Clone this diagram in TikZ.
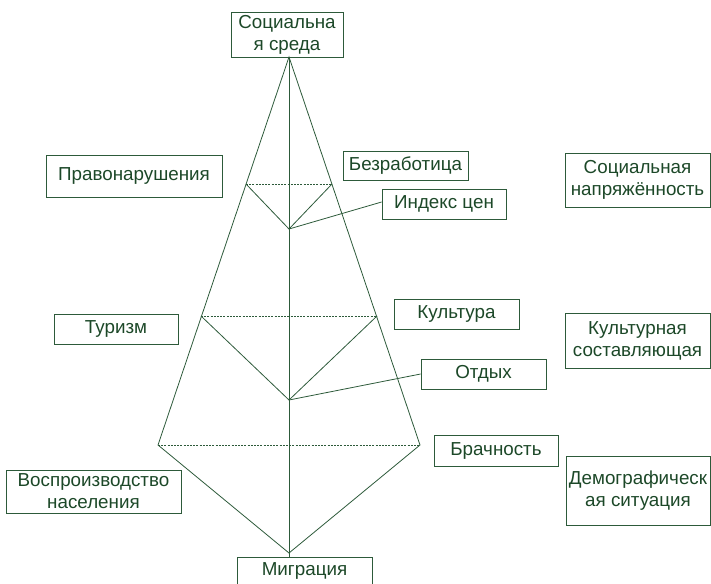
\documentclass[tikz,border=0pt]{standalone}
\usepackage{fontspec}
\setmainfont{Liberation Sans}
\definecolor{lc}{RGB}{45,90,58}
\definecolor{tc}{RGB}{28,72,40}
\begin{document}
\begin{tikzpicture}[x=1pt,y=-1pt,
  every node/.style={font=\fontsize{18.8}{22}\selectfont, text=tc, align=center},
  lbox/.style={draw=lc, line width=0.8pt, inner sep=0pt},
  ln/.style={draw=lc, line width=0.8pt},
  dln/.style={draw=lc, line width=0.8pt, dash pattern=on 2pt off 1.2pt}]
\useasboundingbox (0,0) rectangle (711,583);
\clip (0,0) rectangle (711,583);
% boxes
\node[lbox, minimum width=112pt, minimum height=45pt] (soc) at (287,34.5) {Социальна\\я среда};
\node[lbox, minimum width=176pt, minimum height=42pt] (prav) at (134,176) {Правонарушения};
\node[lbox, minimum width=125pt, minimum height=29pt] (bez) at (405.5,165.5) {Безработица};
\node[lbox, minimum width=124pt, minimum height=30pt] (idx) at (444,204) {Индекс цен};
\node[lbox, minimum width=145pt, minimum height=54pt] (napr) at (637.5,180) {Социальная\\напряжённость};
\node[lbox, minimum width=124pt, minimum height=30pt] (tur) at (116,329) {Туризм};
\node[lbox, minimum width=125pt, minimum height=30pt] (kul) at (456.5,314) {Культура};
\node[lbox, minimum width=145pt, minimum height=55pt] (ksost) at (637.5,340.5) {Культурная\\составляющая};
\node[lbox, minimum width=125pt, minimum height=30pt] (otd) at (483.5,374) {Отдых};
\node[lbox, minimum width=124pt, minimum height=31pt] (bra) at (496,450.5) {Брачность};
\node[lbox, minimum width=175pt, minimum height=43pt] (vos) at (93.5,491.5) {Воспроизводство\\населения};
\node[lbox, minimum width=144pt, minimum height=69pt] (dem) at (638,490.5) {Демографическ\\ая ситуация};
\node[lbox, minimum width=135pt, minimum height=28pt] (mig) at (304.5,571) {Миграция};
% geometry points
\coordinate (A) at (289,57);
\coordinate (L) at (158,445);
\coordinate (R) at (420,445);
\coordinate (B) at (289,553);
\coordinate (l1) at (246,184);
\coordinate (r1) at (332,184);
\coordinate (v1) at (289,229);
\coordinate (l2) at (201,316);
\coordinate (r2) at (377,316);
\coordinate (v2) at (289,400);
\coordinate (mt) at (289,557);
% pyramid
\draw[ln] (A) -- (L) -- (B) -- (R) -- cycle;
\draw[ln] (A) -- (mt);
\draw[dln] (l1) -- (r1);
\draw[dln] (l2) -- (r2);
\draw[dln] (L) -- (R);
\draw[ln] (l1) -- (v1) -- (r1);
\draw[ln] (l2) -- (v2) -- (r2);
\draw[ln] (v1) -- ([yshift=2pt]idx.west);
\draw[ln] (v2) -- (otd.west);
\end{tikzpicture}
\end{document}
